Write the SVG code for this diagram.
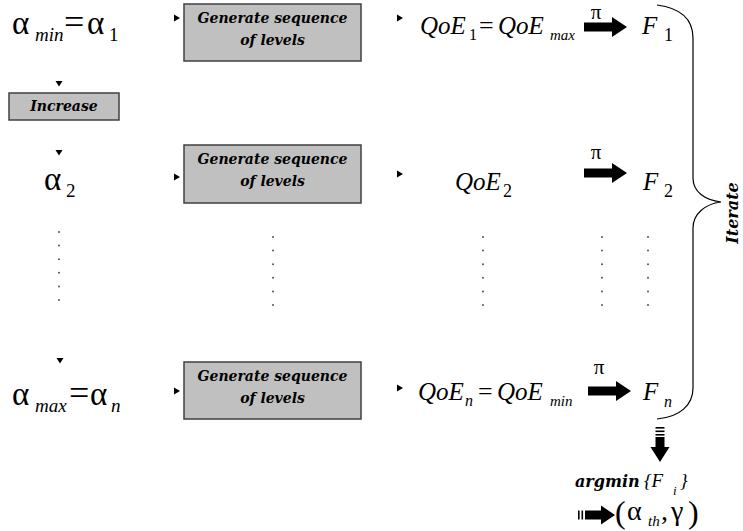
<svg xmlns="http://www.w3.org/2000/svg" width="743" height="531" viewBox="0 0 743 531">
<style>
  .m { font-family: "Liberation Serif", serif; fill: #000; }
  .it { font-family: "Liberation Serif", serif; font-style: italic; fill: #000; }
  .bi { font-family: "DejaVu Serif", serif; font-style: italic; font-weight: bold; fill: #000; }
  .box { fill: #c0c0c0; stroke: #404040; stroke-width: 1.5; }
  .dot { fill: #555; }
  .brace { fill: none; stroke: #000; stroke-width: 1.2; }
</style>
<defs>
  <path id="triR" d="M0,-3.5 L6,0 L0,3.5 Z" fill="#000"/>
  <path id="triD" d="M-3.5,0 L3.5,0 L0,5.5 Z" fill="#000"/>
  <path id="fat" d="M0,-4.5 H28 V-10 L43,0 L28,10 V4.5 H0 Z" fill="#000"/>
  <g id="dots6" class="dot">
    <circle cx="0" cy="0" r="1"/><circle cx="0" cy="13.6" r="1"/><circle cx="0" cy="27.2" r="1"/>
    <circle cx="0" cy="40.8" r="1"/><circle cx="0" cy="54.4" r="1"/><circle cx="0" cy="68" r="1"/>
  </g>
</defs>

<!-- Row 1 -->
<g id="alpha1">
  <text class="m" x="12" y="34" font-size="33">α</text>
  <text class="it" x="35" y="41" font-size="19">min</text>
  <text class="m" x="64" y="34" font-size="36">=</text>
  <text class="m" x="87" y="34" font-size="33">α</text>
  <text class="m" x="109" y="41" font-size="19">1</text>
</g>
<g id="gen1">
  <rect class="box" x="184" y="4" width="177" height="57"/>
  <text class="bi" x="272.5" y="23" font-size="14" text-anchor="middle">Generate sequence</text>
  <text class="bi" x="272.5" y="45" font-size="14" text-anchor="middle">of  levels</text>
</g>
<g id="qoe1">
  <text class="it" x="420" y="34" font-size="25">QoE</text>
  <text class="m" x="469" y="40" font-size="16">1</text>
  <text class="m" x="479" y="34" font-size="26">=</text>
  <text class="it" x="498" y="34" font-size="25">QoE</text>
  <text class="it" x="550" y="40" font-size="15">max</text>
</g>
<g id="f1">
  <text class="it" x="642" y="34" font-size="25">F</text>
  <text class="m" x="664" y="41" font-size="18">1</text>
</g>
<g id="increase">
  <rect class="box" x="9" y="93" width="110" height="27"/>
  <text class="bi" x="64" y="111" font-size="14" text-anchor="middle">Increase</text>
</g>

<!-- Row 2 -->
<g id="alpha2">
  <text class="m" x="44" y="190" font-size="33">α</text>
  <text class="m" x="66" y="197" font-size="19">2</text>
</g>
<g id="gen2">
  <rect class="box" x="184" y="145" width="177" height="58"/>
  <text class="bi" x="272.5" y="164" font-size="14" text-anchor="middle">Generate sequence</text>
  <text class="bi" x="272.5" y="186" font-size="14" text-anchor="middle">of  levels</text>
</g>
<g id="qoe2">
  <text class="it" x="455" y="190" font-size="25">QoE</text>
  <text class="m" x="503" y="197" font-size="18">2</text>
</g>
<g id="f2">
  <text class="it" x="643" y="190" font-size="25">F</text>
  <text class="m" x="664" y="197" font-size="18">2</text>
</g>

<!-- Row 3 -->
<g id="alphan">
  <text class="m" x="12" y="405" font-size="33">α</text>
  <text class="it" x="35" y="412" font-size="19">max</text>
  <text class="m" x="69" y="405" font-size="36">=</text>
  <text class="m" x="90" y="405" font-size="33">α</text>
  <text class="it" x="111" y="412" font-size="19">n</text>
</g>
<g id="gen3">
  <rect class="box" x="184" y="362" width="177" height="57"/>
  <text class="bi" x="272.5" y="381" font-size="14" text-anchor="middle">Generate sequence</text>
  <text class="bi" x="272.5" y="403" font-size="14" text-anchor="middle">of  levels</text>
</g>
<g id="qoen">
  <text class="it" x="418" y="400" font-size="25">QoE</text>
  <text class="it" x="465" y="406" font-size="16">n</text>
  <text class="m" x="478" y="400" font-size="26">=</text>
  <text class="it" x="497" y="400" font-size="25">QoE</text>
  <text class="it" x="550" y="406" font-size="15">min</text>
</g>
<g id="fn">
  <text class="it" x="643" y="400" font-size="25">F</text>
  <text class="it" x="664" y="407" font-size="16">n</text>
</g>

<g id="ellipsis">
  <use href="#dots6" x="59" y="232"/>
  <use href="#dots6" x="273" y="237"/>
  <use href="#dots6" x="483" y="237"/>
  <use href="#dots6" x="602" y="237"/>
  <use href="#dots6" x="648" y="237"/>
</g>

<g id="iterate">
  <path class="brace" d="M657,5 C680,8 693,18 693,38 L693,178 C693,192 705,200 721,202 C705,204 693,214 693,228 L693,388 C693,405 680,417 657,419"/>
  <text class="bi" font-size="16" text-anchor="middle" transform="translate(738,213) rotate(-90)">Iterate</text>
</g>

<g id="argmin">
  <text x="575" y="487"><tspan class="bi" font-size="16">argmin</tspan><tspan class="it" x="644" font-size="19">{F</tspan><tspan class="it" x="673" dy="8" font-size="13">i</tspan><tspan class="it" x="680" dy="-8" font-size="19">}</tspan></text>
</g>
<g id="result">
  <text y="520"><tspan class="m" x="615" dy="3" font-size="32">(</tspan><tspan class="m" x="627" dy="-3" font-size="28">α</tspan><tspan class="it" x="648" dy="6" font-size="15">th</tspan><tspan class="m" x="661" dy="-6" font-size="28">,</tspan><tspan class="m" x="671" font-size="28">γ</tspan><tspan class="m" x="688" dy="3" font-size="32">)</tspan></text>
</g>

<g id="connectors">
  <use href="#triR" x="174" y="18"/>
  <use href="#triR" x="174" y="177"/>
  <use href="#triR" x="174" y="391"/>
  <use href="#triR" x="397" y="18"/>
  <use href="#triR" x="397" y="174"/>
  <use href="#triR" x="397" y="388"/>
  <use href="#triD" x="59" y="81"/>
  <use href="#triD" x="59" y="150"/>
  <use href="#triD" x="60" y="358"/>
  <use href="#fat" x="584" y="27"/>
  <use href="#fat" x="584" y="173"/>
  <use href="#fat" x="588" y="391"/>
  <text class="m" x="596" y="19" font-size="21" text-anchor="middle">π</text>
  <text class="m" x="596" y="159" font-size="21" text-anchor="middle">π</text>
  <text class="m" x="599" y="374" font-size="21" text-anchor="middle">π</text>
  <g fill="#000">
    <rect x="655.5" y="427" width="9" height="1.6"/>
    <rect x="655.5" y="430.5" width="9" height="1.6"/>
    <rect x="655.5" y="434" width="9" height="1.6"/>
    <path d="M655.5,437 H664.5 V447 H669.5 L660,462 L650.5,447 H655.5 Z"/>
  </g>
  <g fill="#000">
    <rect x="578" y="510.5" width="1.6" height="9"/>
    <rect x="581.5" y="510.5" width="1.6" height="9"/>
    <path d="M585,510.5 V519.5 H601 V524.5 L615,515 L601,505.5 V510.5 Z"/>
  </g>
</g>
</svg>
